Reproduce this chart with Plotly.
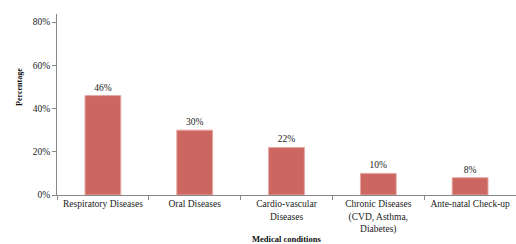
import plotly.graph_objects as go

categories = ["Respiratory Diseases", "Oral Diseases", "Cardio-vascular<br>Diseases",
              "Chronic Diseases<br>(CVD, Asthma,<br>Diabetes)", "Ante-natal Check-up"]
values = [0.46, 0.30, 0.22, 0.10, 0.08]
y_ticks = [0, 0.2, 0.4, 0.6, 0.8]

font = "Liberation Serif"

fig = go.Figure(go.Bar(
    x=categories, y=values,
    marker=dict(color="#CC6660", line=dict(color="#E6A8A4", width=1)),
    width=0.39,
    texttemplate="%{y:.0%}", textposition="outside",
    textfont=dict(family=font, size=9.5, color="#222"),
    cliponaxis=False,
))

fig.update_layout(
    width=516, height=244,
    margin=dict(l=57, r=0, t=14, b=49, autoexpand=False),
    paper_bgcolor="white", plot_bgcolor="white",
    showlegend=False,
    font=dict(family=font, size=9.5, color="#222"),
)
fig.update_xaxes(
    showline=True, linecolor="#888", linewidth=1,
    ticks="outside", tickson="boundaries", ticklen=4, tickcolor="#888",
    tickfont=dict(family=font, size=9.5, color="#222"), tickangle=0,
    showgrid=False, range=[-0.5, 4.5], automargin=False,
)
fig.update_yaxes(
    range=[0, 0.837], tickvals=y_ticks, tickformat=".0%",
    showline=True, linecolor="#888", linewidth=1,
    ticks="outside", ticklen=4, tickcolor="#888",
    tickfont=dict(family=font, size=9.5, color="#222"),
    showgrid=False, zeroline=False, automargin=False,
)
fig.add_annotation(text="<b>Percentage</b>", textangle=-90, xref="paper", yref="paper",
                   x=-0.083, y=(195 - 87) / 181, xanchor="center", yanchor="middle",
                   showarrow=False, font=dict(family=font, size=8, color="#111"))
fig.add_annotation(text="<b>Medical conditions</b>", xref="paper", yref="paper",
                   x=0.5, y=(195 - 232) / 181, xanchor="center", yanchor="top",
                   showarrow=False, font=dict(family=font, size=8.5, color="#111"))

fig.write_html("out.html", config={"displayModeBar": False},
               post_script="document.body.style.margin='0';document.body.style.overflow='hidden';")
